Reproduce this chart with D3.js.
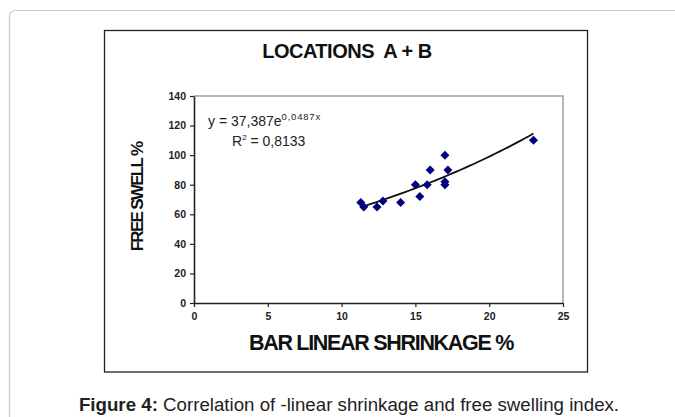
<!DOCTYPE html>
<html>
<head>
<meta charset="utf-8">
<script src="https://cdn.jsdelivr.net/npm/d3@7"></script>
<style>
  html, body { margin: 0; padding: 0; background: #fff; }
  svg { display: block; }
</style>
</head>
<body>
<svg id="chart" width="675" height="417"></svg>
<script>
// ---- data ----
const shrinkage = [11.3, 11.5, 12.4, 12.8, 14.0, 15.0, 15.3, 15.8, 16.0, 17.0, 17.0, 17.0, 17.2, 23.0];
const freeSwell = [68, 65, 65, 69, 68, 80, 72, 80, 90, 100, 82, 80, 90, 110];
const xTicks = [0, 5, 10, 15, 20, 25];
const yTicks = [0, 20, 40, 60, 80, 100, 120, 140];
const trendA = 37.387;
const trendB = 0.0487;
const trendRange = [11.4, 23.0];
const titleText = "LOCATIONS  A + B";
const xTitle = "BAR LINEAR SHRINKAGE %";
const yTitle = "FREE SWELL %";

const svg = d3.select("#chart");
const font = "'Liberation Sans', Arial, sans-serif";

// outer card
svg.append("path")
  .attr("d", "M9.5,417 L9.5,17 Q9.5,10.5 16,10.5 L675,10.5")
  .attr("fill", "none").attr("stroke", "#c8c8c8").attr("stroke-width", 1.2);

// inner chart frame
svg.append("rect").attr("x", 104.5).attr("y", 30.5).attr("width", 483).attr("height", 341.5)
  .attr("fill", "#fff").attr("stroke", "#222").attr("stroke-width", 1.3);

const x = d3.scaleLinear().domain([0, 25]).range([194, 563]);
const y = d3.scaleLinear().domain([0, 140]).range([303, 96]);

// plot area border (top/right gray)
svg.append("path")
  .attr("d", `M${x(0)},${y(140)} L${x(25)},${y(140)} L${x(25)},${y(0)}`)
  .attr("fill", "none").attr("stroke", "#a0a0a0").attr("stroke-width", 1.5);

// axes
const xAxis = d3.axisBottom(x).tickValues(xTicks).tickSize(4).tickSizeOuter(0);
const yAxis = d3.axisLeft(y).tickValues(yTicks).tickSize(4).tickSizeOuter(0);

const gx = svg.append("g").attr("transform", `translate(0,${y(0)})`).call(xAxis);
const gy = svg.append("g").attr("transform", `translate(${x(0)},0)`).call(yAxis);
[gx, gy].forEach(g => {
  g.select(".domain").attr("stroke", "#222").attr("stroke-width", 1.6);
  g.selectAll(".tick line").attr("stroke", "#222").attr("stroke-width", 1.2);
  g.selectAll(".tick text").attr("font-family", font).attr("font-size", 10.5)
    .attr("font-weight", "bold").attr("fill", "#222");
});
gx.selectAll(".tick text").attr("dy", "0.95em");
gy.selectAll(".tick text").attr("dx", "-1px");

// trendline from displayed equation
const trendPts = d3.range(0, 41).map(i => {
  const xv = trendRange[0] + (trendRange[1] - trendRange[0]) * i / 40;
  return [xv, trendA * Math.exp(trendB * xv)];
});
svg.append("path")
  .attr("d", d3.line().x(d => x(d[0])).y(d => y(d[1]))(trendPts))
  .attr("fill", "none").attr("stroke", "#111").attr("stroke-width", 1.8);

// points
const diamond = d3.symbol().type(d3.symbolDiamond2).size(52);
svg.append("g").selectAll("path").data(shrinkage.map((v, i) => [v, freeSwell[i]]))
  .join("path")
  .attr("transform", d => `translate(${x(d[0])},${y(d[1])})`)
  .attr("d", diamond)
  .attr("fill", "#00007a");

// title
svg.append("text").attr("x", 347).attr("y", 58).attr("text-anchor", "middle")
  .attr("font-family", font).attr("font-weight", "bold").attr("font-size", 20)
  .attr("letter-spacing", "-0.5").attr("fill", "#111").attr("xml:space", "preserve")
  .text(titleText);

// equation
const eq = svg.append("text").attr("x", 208).attr("y", 126)
  .attr("font-family", font).attr("font-size", 14).attr("fill", "#222");
eq.append("tspan").text("y = 37,387e");
eq.append("tspan").attr("font-size", 9.5).attr("dy", -6).attr("letter-spacing", "0.8").text("0,0487x");
const r2 = svg.append("text").attr("x", 232).attr("y", 146)
  .attr("font-family", font).attr("font-size", 14).attr("fill", "#222");
r2.append("tspan").text("R");
r2.append("tspan").attr("font-size", 8).attr("dy", -6).text("2");
r2.append("tspan").attr("dy", 6).text(" = 0,8133");

// axis titles
svg.append("text").attr("x", 381).attr("y", 350).attr("text-anchor", "middle")
  .attr("font-family", font).attr("font-weight", "bold").attr("font-size", 21.5)
  .attr("letter-spacing", "-1.3").attr("fill", "#111").text(xTitle);

svg.append("text").attr("transform", "translate(143,197) rotate(-90)").attr("text-anchor", "middle")
  .attr("font-family", font).attr("font-weight", "bold").attr("font-size", 17)
  .attr("letter-spacing", "-1.7").attr("fill", "#111").text(yTitle);

// caption
const cap = svg.append("text").attr("x", 349).attr("y", 411).attr("text-anchor", "middle")
  .attr("font-family", font).attr("font-size", 18.7).attr("fill", "#222");
cap.append("tspan").attr("font-weight", "bold").text("Figure 4:");
cap.append("tspan").text(" Correlation of -linear shrinkage and free swelling index.");
</script>
</body>
</html>
